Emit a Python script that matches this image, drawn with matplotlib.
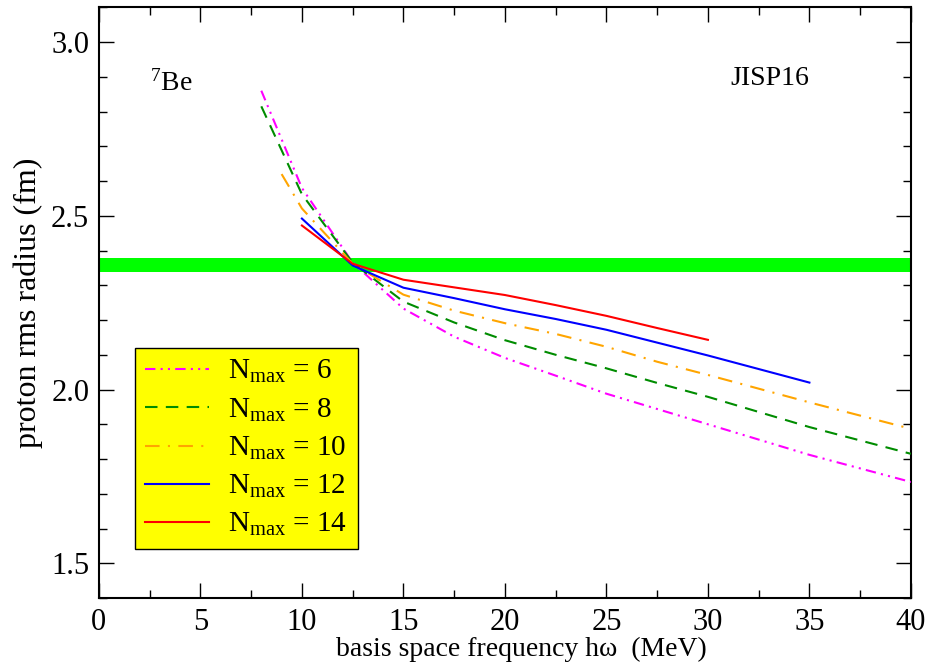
import numpy as np
import matplotlib
matplotlib.use("Agg")
import matplotlib.pyplot as plt
from matplotlib.ticker import MultipleLocator, FormatStrFormatter

plt.rcParams['font.family'] = ['Liberation Serif', 'DejaVu Serif']
plt.rcParams['mathtext.fontset'] = 'custom'
plt.rcParams['mathtext.rm'] = 'Liberation Serif'
plt.rcParams['mathtext.it'] = 'Liberation Serif:italic'

# hbar*omega grid (MeV) and proton rms radius (fm) for each Nmax
hw_6 = [8, 10, 12.5, 15, 17.5, 20, 22.5, 25, 27.5, 30, 35, 40]
r_6 = [2.86, 2.58, 2.365, 2.233, 2.152, 2.091, 2.04, 1.988, 1.944, 1.900, 1.812, 1.734]

hw_8 = [8, 10, 12.5, 15, 17.5, 20, 22.5, 25, 27.5, 30, 35, 40]
r_8 = [2.815, 2.562, 2.365, 2.253, 2.193, 2.142, 2.10, 2.061, 2.019, 1.979, 1.892, 1.815]

hw_10 = [9, 10, 12.5, 15, 17.5, 20, 22.5, 25, 27.5, 30, 35, 40]
r_10 = [2.62, 2.521, 2.362, 2.273, 2.227, 2.191, 2.16, 2.123, 2.080, 2.042, 1.963, 1.887]

hw_12 = [10, 12.5, 15, 17.5, 20, 22.5, 25, 27.5, 30, 35]
r_12 = [2.492, 2.357, 2.293, 2.263, 2.231, 2.203, 2.172, 2.135, 2.098, 2.020]

hw_14 = [10, 12.5, 15, 17.5, 20, 22.5, 25, 27.5, 30]
r_14 = [2.472, 2.362, 2.316, 2.294, 2.272, 2.243, 2.212, 2.177, 2.143]

# experimental band
band_lo, band_hi = 2.337, 2.379

fig, ax = plt.subplots(figsize=(9.42, 6.63), dpi=100)
fig.subplots_adjust(left=0.105, right=0.967, top=0.989, bottom=0.098)

ax.axhspan(band_lo, band_hi, color='#00ff00', lw=0, zorder=1)

lw = 1.5
ax.plot(hw_6, r_6, color='magenta', lw=lw, dashes=[5, 2.5, 1, 2.5, 1, 2.5],
        label=r'N$_{\mathrm{max}}$ = 6', zorder=3)
ax.plot(hw_8, r_8, color='#008c00', lw=lw, dashes=[6, 4],
        label=r'N$_{\mathrm{max}}$ = 8', zorder=3)
ax.plot(hw_10, r_10, color='orange', lw=lw, dashes=[7, 4, 1, 4],
        label=r'N$_{\mathrm{max}}$ = 10', zorder=3)
ax.plot(hw_12, r_12, color='blue', lw=lw, label=r'N$_{\mathrm{max}}$ = 12', zorder=3)
ax.plot(hw_14, r_14, color='red', lw=lw, label=r'N$_{\mathrm{max}}$ = 14', zorder=3)

ax.set_xlim(0, 40)
ax.set_ylim(1.4, 3.1)
ax.xaxis.set_major_locator(MultipleLocator(5))
ax.xaxis.set_minor_locator(MultipleLocator(2.5))
ax.yaxis.set_major_locator(MultipleLocator(0.5))
ax.yaxis.set_minor_locator(MultipleLocator(0.1))
ax.yaxis.set_major_formatter(FormatStrFormatter('%.1f'))
ax.tick_params(which='both', direction='in', top=True, right=True, width=1.0)
ax.tick_params(which='major', length=11, labelsize=22, pad=7)
ax.tick_params(which='minor', length=5.5)
for sp in ax.spines.values():
    sp.set_linewidth(1.5)

ax.set_xlabel('basis space frequency hω  (MeV)', fontsize=20, labelpad=0)
ax.xaxis.label.set_x(0.52)
ax.set_ylabel('proton rms radius (fm)', fontsize=23, labelpad=6)

ax.text(2.5, 2.86, r'$^{7}$Be', fontsize=20)
ax.text(31.1, 2.876, 'JISP16', fontsize=20)

leg = ax.legend(loc='lower left', bbox_to_anchor=(0.044, 0.083), borderaxespad=0,
                fontsize=21, frameon=True, fancybox=False, handlelength=2.2,
                labelspacing=0.38, borderpad=0.36, handletextpad=0.65)
leg.get_frame().set_facecolor('yellow')
leg.get_frame().set_edgecolor('black')
leg.get_frame().set_alpha(1)
leg.get_frame().set_linewidth(1.0)

fig.savefig('out.png', dpi=100)
